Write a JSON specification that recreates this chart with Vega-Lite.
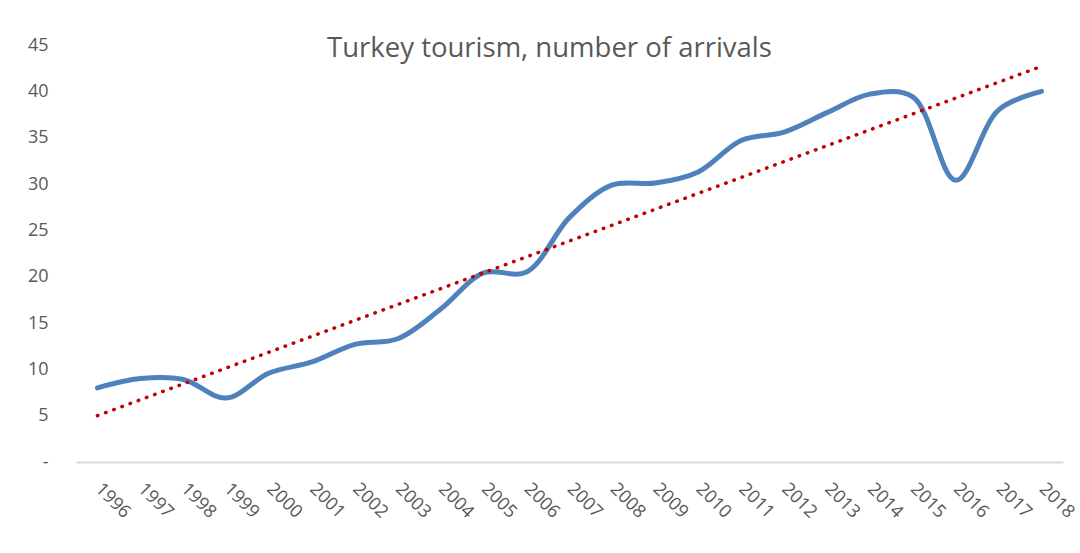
{
  "$schema": "https://vega.github.io/schema/vega-lite/v6.json",
  "width": 987,
  "height": 417,
  "autosize": "none",
  "padding": {"left": 76, "top": 45, "right": 17, "bottom": 91},
  "background": "white",
  "config": {
    "view": {"stroke": null},
    "font": "Open Sans"
  },
  "title": {
    "text": "Turkey tourism, number of arrivals",
    "font": "Open Sans",
    "fontSize": 27.5,
    "fontWeight": "normal",
    "color": "#595959",
    "anchor": "middle",
    "frame": "group",
    "baseline": "alphabetic",
    "offset": 0,
    "dx": -20,
    "dy": 48
  },
  "encoding": {
    "x": {
      "field": "year",
      "type": "ordinal",
      "scale": {"type": "point", "padding": 0.5, "domain": [1996,1997,1998,1999,2000,2001,2002,2003,2004,2005,2006,2007,2008,2009,2010,2011,2012,2013,2014,2015,2016,2017,2018]},
      "axis": {
        "title": null,
        "labelAngle": 45,
        "labelAlign": "left",
        "labelBaseline": "middle",
        "labelPadding": 24,
        "labelFontSize": 18,
        "labelColor": "#595959",
        "labelFont": "Open Sans",
        "ticks": false,
        "domainColor": "#d9d9d9",
        "domainWidth": 2,
        "grid": false
      }
    },
    "y": {
      "field": "value",
      "type": "quantitative",
      "scale": {"domain": [0, 45], "nice": false, "zero": true},
      "axis": {
        "title": null,
        "values": [0,5,10,15,20,25,30,35,40,45],
        "labelExpr": "datum.value == 0 ? '-\u00a0\u00a0\u00a0' : datum.label",
        "labelFontSize": 18,
        "labelColor": "#595959",
        "labelFont": "Open Sans",
        "labelPadding": 28,
        "ticks": false,
        "domain": false,
        "grid": false
      }
    }
  },
  "layer": [
    {
      "data": {"values": [
        {"year": 1996, "value": 8.0},
        {"year": 1997, "value": 9.0},
        {"year": 1998, "value": 8.9},
        {"year": 1999, "value": 6.9},
        {"year": 2000, "value": 9.6},
        {"year": 2001, "value": 10.8},
        {"year": 2002, "value": 12.7},
        {"year": 2003, "value": 13.3},
        {"year": 2004, "value": 16.5},
        {"year": 2005, "value": 20.4},
        {"year": 2006, "value": 20.5},
        {"year": 2007, "value": 26.4},
        {"year": 2008, "value": 29.9},
        {"year": 2009, "value": 30.1},
        {"year": 2010, "value": 31.3},
        {"year": 2011, "value": 34.7},
        {"year": 2012, "value": 35.6},
        {"year": 2013, "value": 37.7},
        {"year": 2014, "value": 39.7},
        {"year": 2015, "value": 39.4},
        {"year": 2016, "value": 30.4},
        {"year": 2017, "value": 38.0},
        {"year": 2018, "value": 40.0}
      ]},
      "mark": {"type": "line", "interpolate": "catmull-rom", "color": "#4f81bd", "strokeWidth": 5, "strokeCap": "round", "strokeJoin": "round"}
    },
    {
      "data": {"values": [
        {"year": 1996, "value": 5.0},
        {"year": 2018, "value": 42.7}
      ]},
      "mark": {"type": "line", "color": "#c00000", "strokeWidth": 3.5, "strokeCap": "round", "strokeDash": [0.5, 8.2]}
    }
  ]
}
